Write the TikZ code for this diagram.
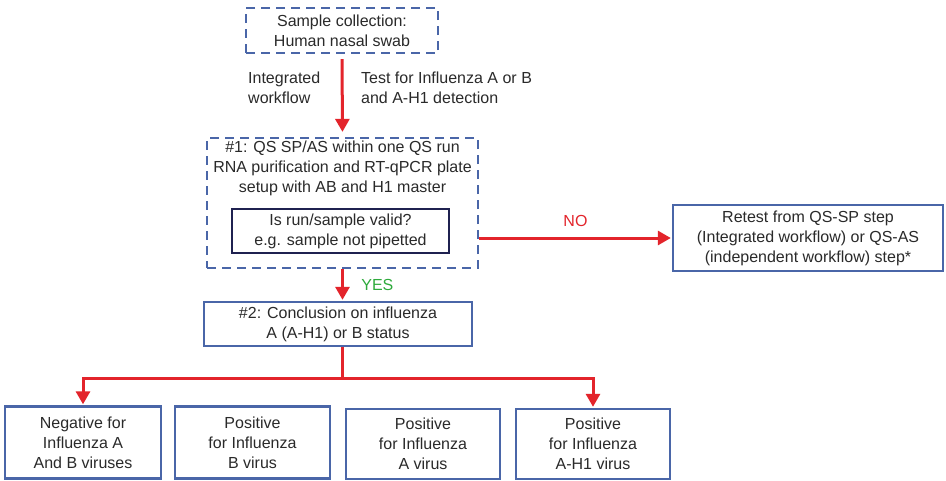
\documentclass[tikz,border=0pt]{standalone}
\usepackage{fontspec}
\setmainfont{Liberation Sans}
\usetikzlibrary{arrows.meta,calc}
\definecolor{boxblue}{HTML}{4A66A8}
\definecolor{flowred}{HTML}{E3242B}
\definecolor{okgreen}{HTML}{2EAA3C}
\definecolor{navy}{HTML}{1F2150}
\definecolor{ink}{HTML}{2A2A2A}
\tikzset{
  txt/.style={font=\fontsize{16}{20}\selectfont, text=ink, align=center, inner sep=0pt},
  dbox/.style={draw=boxblue, line width=2.3pt, dash pattern=on 9pt off 6pt},
  sbox/.style={draw=boxblue, line width=2.4pt},
  flow/.style={draw=flowred, line width=3pt},
  arr/.style={flow, -{Triangle[length=13pt,width=14pt]}},
}
\begin{document}
\begin{tikzpicture}[x=1pt,y=-1pt]
\useasboundingbox[fill=white] (0,0) rectangle (946,480);

% sample collection
\node[dbox, txt, minimum width=192pt, minimum height=45pt] (sample) at (342,30.5)
  {Sample collection:\\Human nasal swab};
\node[txt, align=left, anchor=west] (integ) at (248,88) {Integrated\\workflow};
\node[txt, align=left, anchor=west] (test) at (361,88) {Test for Influenza A or B\\and A-H1 detection};

% step 1: run and validity check
\node[dbox, minimum width=271pt, minimum height=130pt] (qs) at (342.5,203) {};
\node[txt, anchor=north] (qstxt) at (342.5,141) {\#1: QS SP/AS within one QS run\\RNA purification and RT-qPCR plate\\setup with AB and H1 master};
\node[txt, draw=navy, line width=2.2pt, minimum width=217pt, minimum height=44pt] (valid) at (340.5,231)
  {Is run/sample valid?\\e.g. sample not pipetted};

% retest
\node[sbox, txt, minimum width=270pt, minimum height=66pt] (retest) at (808,238)
  {Retest from QS-SP step\\(Integrated workflow) or QS-AS\\(independent workflow) step*};

% step 2
\node[sbox, txt, minimum width=268pt, minimum height=44pt] (concl) at (338,324)
  {\#2: Conclusion on influenza\\A (A-H1) or B status};

% outcomes
\node[sbox, txt, minimum width=156pt, minimum height=72pt] (neg) at (83,442.5)
  {Negative for\\Influenza A\\And B viruses};
\node[sbox, txt, minimum width=155pt, minimum height=72pt] (posb) at (252.5,442.5)
  {Positive\\for Influenza\\B virus};
\node[sbox, txt, minimum width=154pt, minimum height=70pt] (posa) at (423,444)
  {Positive\\for Influenza\\A virus};
\node[sbox, txt, minimum width=154pt, minimum height=70pt] (posh) at (593,444)
  {Positive\\for Influenza\\A-H1 virus};

% connectors
\draw[arr, shorten <=5pt, shorten >=5pt] (sample.south) -- (qs.north);
\draw[arr, shorten >=1pt] (retest.west -| qs.east) -- (retest.west)
  node[midway, above=7pt, text=flowred, font=\fontsize{16}{18}\selectfont] (no) {NO};
\draw[arr, shorten >=1pt] (qs.south) -- (concl.north -| qs.south)
  node[midway, right=14pt, text=okgreen, font=\fontsize{16}{18}\selectfont] (yes) {YES};
\draw[flow] (concl.south -| qs.south) -- ++(0,31) coordinate (split);
\draw[arr, shorten >=1pt] (split) -| (neg.north);
\draw[arr, shorten >=1pt] (split) -| (posh.north);
\end{tikzpicture}
\end{document}
